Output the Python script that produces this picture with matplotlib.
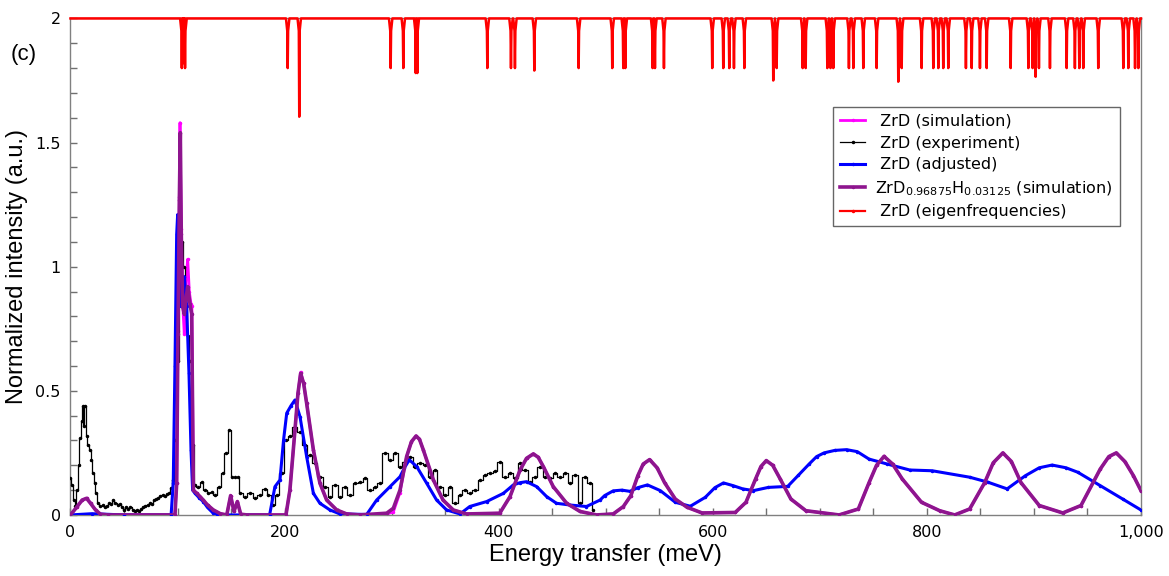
import matplotlib
matplotlib.use("Agg")
import matplotlib.pyplot as plt
from matplotlib.ticker import MultipleLocator, FuncFormatter

# ZrD0.96875H0.03125 (simulation)
sim_h_e = [0, 6.3, 10.9, 15, 18.7, 23.4, 28, 35, 97.6, 99.2, 100.4, 101.7, 102.6, 103.5,
           104.8, 106.3, 107.9, 109.5, 111.6, 113.2, 114.8, 117.9, 121, 124, 128, 133.5,
           140, 146, 149.6, 152.7, 155.9, 159, 165, 201.3, 205, 209.7, 212.5, 215, 217.8,
           220.6, 226.9, 233, 239.3, 248.7, 258, 270, 295.4, 301.6, 307.8, 314, 318.5,
           322.8, 326, 329.6, 339, 348, 357.6, 370, 401, 410.6, 420, 426, 432.4, 437,
           441.7, 451, 463.5, 476, 491.5, 507, 516.5, 523.5, 530, 535, 541, 548, 555, 565,
           576, 590, 621, 631, 640, 645, 650, 656, 663, 673, 687, 718, 736, 746, 753, 760,
           768, 777, 795, 812, 826, 840, 854, 862, 871, 879, 888, 905, 927, 944, 962, 970,
           977, 985, 993, 1000]
sim_h_i = [0, 0.034, 0.06, 0.067, 0.047, 0.02, 0.003, 0, 0, 0.128, 0.73, 1.27, 1.54, 1.13,
           0.84, 0.81, 0.87, 0.92, 0.85, 0.81, 0.1, 0.087, 0.074, 0.06, 0.04, 0.02,
           0.005, 0, 0.078, 0.014, 0.054, 0.003, 0, 0, 0.101, 0.342, 0.49, 0.57, 0.53,
           0.45, 0.262, 0.128, 0.06, 0.02, 0.004, 0, 0.007, 0.027, 0.1, 0.235, 0.295,
           0.318, 0.305, 0.262, 0.141, 0.06, 0.02, 0.004, 0.007, 0.074, 0.181, 0.228, 0.246, 0.232,
           0.195, 0.114, 0.047, 0.014, 0, 0.004, 0.034, 0.078, 0.158, 0.205, 0.223, 0.19, 0.13, 0.064,
           0.031, 0.008, 0.01, 0.051, 0.145, 0.195, 0.219, 0.2, 0.145, 0.064, 0.017, 0, 0.024, 0.13, 0.2, 0.236,
           0.205, 0.145, 0.051, 0.017, 0, 0.024, 0.13, 0.21, 0.25, 0.215, 0.13, 0.038, 0.008, 0.038, 0.185, 0.235,
           0.25, 0.215, 0.158, 0.098]

# ZrD (simulation)
sim_e = [0, 6.3, 10.9, 15, 18.7, 23.4, 28, 35, 97.6, 99.2, 100.4, 101.7, 102.3, 103.5,
         104.8, 106.3, 107.9, 109.5, 111, 112.6, 113.4, 114.8, 117.9, 121, 124, 128, 133.5,
         140, 146, 149.6, 152.7, 155.9, 159, 165, 201.3, 205, 209.7, 212.5, 215, 217.8,
         220.6, 226.9, 233, 239.3, 248.7, 258, 270, 295.4, 301.6, 307.8, 314, 318.5,
         322.8, 326, 329.6, 339, 348, 357.6, 370, 401, 410.6, 420, 426, 432.4, 437,
         441.7, 451, 463.5, 476, 491.5, 507, 516.5, 523.5, 530, 535, 541, 548, 555, 565,
         576, 590, 621, 631, 640, 645, 650, 656, 663, 673, 687, 718, 736, 746, 753, 760,
         768, 777, 795, 812, 826, 840, 854, 862, 871, 879, 888, 905, 927, 944, 962, 970,
         977, 985, 993, 1000]
sim_i = [0, 0.034, 0.06, 0.067, 0.047, 0.02, 0.003, 0, 0, 0.128, 0.74, 1.28, 1.58, 1.15,
         0.85, 0.73, 0.95, 1.03, 0.9, 0.85, 0.84, 0.1, 0.087, 0.074, 0.06, 0.04, 0.02,
         0.005, 0, 0.078, 0.014, 0.054, 0.003, 0, 0, 0.101, 0.342, 0.49, 0.575, 0.53,
         0.45, 0.262, 0.128, 0.06, 0.02, 0.004, 0, 0.004, 0.012, 0.09, 0.235, 0.295,
         0.318, 0.305, 0.262, 0.141, 0.06, 0.02, 0.004, 0.007, 0.074, 0.181, 0.228, 0.246, 0.232,
         0.195, 0.114, 0.047, 0.014, 0, 0.004, 0.034, 0.078, 0.158, 0.205, 0.223, 0.19, 0.13, 0.064,
         0.031, 0.008, 0.01, 0.051, 0.145, 0.195, 0.219, 0.2, 0.145, 0.064, 0.017, 0, 0.024, 0.13, 0.2, 0.236,
         0.205, 0.145, 0.051, 0.017, 0, 0.024, 0.13, 0.21, 0.25, 0.215, 0.13, 0.038, 0.008, 0.038, 0.185, 0.235,
         0.25, 0.215, 0.158, 0.098]

# ZrD (experiment)
exp_e = [0, 1.5, 3, 4.5, 6, 7.5, 9, 10.5, 11.5, 12.5, 13.5, 15, 16.5, 18, 19.5, 21, 22.5,
         24, 26, 28, 30, 32, 34, 36, 38, 40, 42, 44, 46, 48, 50, 52, 54, 56, 58, 60, 62,
         64, 66, 68, 70, 72, 74, 76, 78, 80, 82, 84, 86, 88, 90, 92, 94, 96, 98, 100,
         102, 104, 106, 108, 110, 112, 114, 116, 119.4, 122.5, 125.7, 128.8, 131.9, 135,
         139, 142.2, 145.3, 148.4, 150.6, 153.7, 156.8, 158.4, 163, 167.7, 172.4, 177,
         181.7, 184.8, 188.9, 192.6, 197.3, 201.3, 205, 209.7, 214.4, 219, 223.7, 228.4,
         233.1, 237.8, 242.4, 247.1, 251.8, 256.4, 261.1, 265.8, 270.5, 275.1, 279.8,
         284.5, 289.1, 293.8, 298.5, 303.2, 307.8, 312.5, 317.2, 321.8, 326.5, 331.2,
         335.9, 340.5, 345.2, 349.9, 354.5, 359.2, 363.9, 368.5, 373.2, 377.9, 382.6,
         387.2, 391.9, 396.6, 401.2, 405.9, 410.6, 415.3, 419.9, 424.6, 429.3, 433.9,
         438.6, 443.3, 448, 452.6, 457.3, 462, 466.6, 471.3, 476, 480.6, 485.3, 488.4]
exp_i = [0.15, 0.12, 0.06, 0.035, 0.1, 0.2, 0.31, 0.38, 0.44, 0.36, 0.44, 0.32, 0.28, 0.26,
         0.22, 0.17, 0.13, 0.09, 0.05, 0.035, 0.04, 0.03, 0.035, 0.05, 0.045, 0.06, 0.05,
         0.04, 0.045, 0.03, 0.02, 0.03, 0.025, 0.03, 0.02, 0.015, 0.02, 0.015, 0.025, 0.03,
         0.035, 0.04, 0.05, 0.045, 0.06, 0.065, 0.07, 0.075, 0.08, 0.075, 0.085, 0.09, 0.11,
         0.14, 0.3, 0.62, 0.95, 1.1, 1.0, 0.85, 0.72, 0.62, 0.28, 0.12, 0.114, 0.134,
         0.101, 0.087, 0.094, 0.081, 0.114, 0.168, 0.248, 0.342, 0.154, 0.154, 0.154,
         0.087, 0.074, 0.087, 0.067, 0.081, 0.104, 0.081, 0.04, 0.081, 0.168, 0.302,
         0.316, 0.356, 0.336, 0.282, 0.242, 0.208, 0.154, 0.114, 0.074, 0.121, 0.074,
         0.114, 0.081, 0.128, 0.134, 0.148, 0.101, 0.114, 0.128, 0.248, 0.222, 0.248,
         0.195, 0.215, 0.235, 0.195, 0.208, 0.201, 0.154, 0.181, 0.114, 0.081, 0.114,
         0.047, 0.081, 0.101, 0.087, 0.101, 0.141, 0.161, 0.168, 0.175, 0.215, 0.154,
         0.168, 0.148, 0.208, 0.181, 0.134, 0.154, 0.195, 0.154, 0.148, 0.168, 0.154,
         0.168, 0.128, 0.161, 0.047, 0.154, 0.128, 0.02]

# ZrD (adjusted)
adj_e = [0, 20, 50, 94, 96, 97.6, 99.2, 100.1, 101.7, 102.9, 104.8, 106.3, 108.5, 110.7,
         112.6, 114.1, 116.3, 120, 124, 128, 133.4, 137, 186, 191, 195.7, 199, 202, 206,
         209.7, 214.4, 220.6, 226.9, 233, 242.4, 251.8, 276.7, 286, 298.5, 307.8, 312,
         316.5, 323.4, 332.7, 342, 351.4, 363.9, 373, 388.8, 404.4, 413.7, 420, 426, 435.5,
         444.8, 454, 466.6, 482, 494.7, 499, 507, 515, 522.7, 530, 539, 551, 565, 579,
         593, 602, 610, 619, 628, 638, 652, 670, 680, 690, 697, 704, 714, 725, 735, 746,
         763, 784, 805, 840, 857, 875, 892, 905, 917, 930, 941, 962, 983, 1000]
adj_i = [0, 0.005, 0, 0, 0.13, 0.6, 1.13, 1.21, 1.07, 0.84, 0.92, 0.96, 0.84, 0.57,
         0.26, 0.1, 0.087, 0.07, 0.054, 0.03, 0.007, 0, 0, 0.114, 0.141, 0.3, 0.41, 0.44,
         0.463, 0.396, 0.235, 0.087, 0.047, 0.02, 0.004, 0.002, 0.06, 0.114, 0.154, 0.19,
         0.222, 0.195, 0.128, 0.06, 0.02, 0.004, 0.034, 0.054, 0.087, 0.121, 0.13, 0.134, 0.114,
         0.074, 0.047, 0.04, 0.034, 0.06, 0.078, 0.097, 0.1, 0.095, 0.11, 0.121, 0.098,
         0.051, 0.035, 0.071, 0.11, 0.129, 0.118, 0.105, 0.098, 0.111, 0.115, 0.16, 0.205,
         0.235, 0.25, 0.26, 0.263, 0.255, 0.225, 0.205, 0.181, 0.178, 0.152, 0.132, 0.105,
         0.158, 0.19, 0.201, 0.19, 0.172, 0.118, 0.064, 0.02]

# ZrD (eigenfrequencies): mode energy and how deep its tick goes
eig_e = [104, 105.5, 107, 202.9, 213.7, 299.1, 310.9, 322.5, 324, 389.4, 411.5, 415.2,
         433.3, 474.7, 506.1, 516.4, 518.3, 543.8, 546, 554.4, 599.5, 609.8, 615.4, 619.8,
         629.5, 656.5, 659.7, 684, 686.8, 707, 710, 712.6, 727.2, 731.3, 740.6, 753.1,
         773.3, 776.5, 795.1, 806, 810.7, 815.3, 820, 836.5, 841.9, 849.6, 855.9, 878.3,
         894.8, 898.8, 901.6, 904.7, 915, 930.6, 938.3, 942.4, 946.1, 960.1, 983.5, 988.2,
         994.5, 997.6]
eig_low = [1.8, 1.82, 1.8, 1.8, 1.604, 1.8, 1.8, 1.78, 1.78, 1.8, 1.8, 1.8,
           1.79, 1.8, 1.8, 1.8, 1.8, 1.8, 1.8, 1.8, 1.8, 1.8, 1.8, 1.8,
           1.8, 1.75, 1.8, 1.8, 1.8, 1.8, 1.8, 1.8, 1.8, 1.8, 1.8, 1.8,
           1.745, 1.8, 1.8, 1.8, 1.8, 1.8, 1.8, 1.8, 1.8, 1.8, 1.8, 1.8,
           1.8, 1.8, 1.765, 1.8, 1.8, 1.8, 1.8, 1.8, 1.8, 1.8, 1.8, 1.8,
           1.8, 1.8]

# build the red trace: flat at 2 with a narrow notch at every mode
red_x = [0]
red_y = [2]
for f, lo in zip(eig_e, eig_low):
    red_x += [f - 1.6, f - 0.4, f, f + 0.4, f + 1.6]
    red_y += [2, 1.95, lo, 1.95, 2]
red_x.append(1000)
red_y.append(2)

fig = plt.figure(figsize=(11.69, 5.76), dpi=100)
ax = fig.add_axes([0.0603, 0.106, 0.9157, 0.862])

ax.plot(sim_e, sim_i, color="#ff00ff", lw=2.0, marker=".", ms=3, zorder=2,
        label=" ZrD (simulation)")
ax.plot(exp_e, exp_i, color="black", lw=0.9, marker=".", ms=3, drawstyle="steps-mid",
        zorder=3, label=" ZrD (experiment)")
ax.plot(adj_e, adj_i, color="#0000ff", lw=2.2, marker=".", ms=3, zorder=4,
        label=" ZrD (adjusted)")
ax.plot(sim_h_e, sim_h_i, color="#8e158e", lw=2.6, marker=".", ms=3, zorder=5,
        label=r"ZrD$\mathregular{_{0.96875}}$H$\mathregular{_{0.03125}}$ (simulation)")
ax.plot(red_x, red_y, color="#ff0000", lw=1.8, marker="", zorder=6, clip_on=False)
ax.plot([], [], color="#ff0000", lw=1.6, marker=".", ms=3,
        label=" ZrD (eigenfrequencies)")

ax.set_xlim(0, 1000)
ax.set_ylim(0, 2)
ax.xaxis.set_major_locator(MultipleLocator(200))
ax.xaxis.set_minor_locator(MultipleLocator(50))
ax.yaxis.set_major_locator(MultipleLocator(0.5))
ax.yaxis.set_minor_locator(MultipleLocator(0.1))
ax.xaxis.set_major_formatter(FuncFormatter(lambda v, p: f"{v:,.0f}"))
ax.yaxis.set_major_formatter(FuncFormatter(lambda v, p: f"{v:g}"))
ax.tick_params(which="both", direction="in", color="#707070", length=5, width=1,
               labelsize=11.5, top=False, right=False)
ax.tick_params(axis="x", pad=7)
ax.tick_params(axis="y", pad=7)
for s in ax.spines.values():
    s.set_color("#808080")
    s.set_linewidth(1)

ax.set_xlabel("Energy transfer (meV)", fontsize=17, family="Liberation Sans", labelpad=3)
ax.set_ylabel("Normalized intensity (a.u.)", fontsize=17, family="Liberation Sans",
              labelpad=5)

fig.text(0.009, 0.905, "(c)", fontsize=16, family="Liberation Sans", va="center")

leg = ax.legend(loc="upper left", bbox_to_anchor=(0.712, 0.822), borderaxespad=0,
                fontsize=11.5, frameon=True, fancybox=False, edgecolor="#404040",
                handlelength=1.6, handletextpad=0.6, borderpad=0.45, labelspacing=0.42)
leg.get_frame().set_linewidth(1)

fig.savefig("out.png", dpi=100)
